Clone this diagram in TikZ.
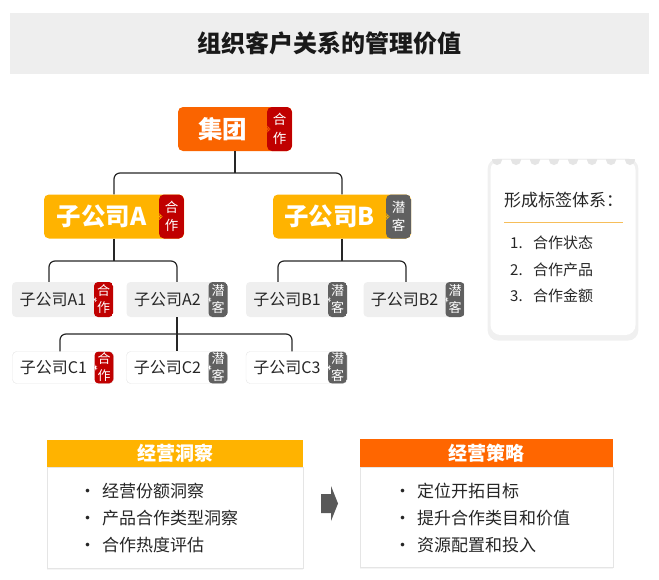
\documentclass[tikz,border=0pt]{standalone}
\usepackage{fontspec}
\setmainfont{Noto Sans CJK SC}
\usetikzlibrary{positioning, shadows}
\definecolor{orangeC}{HTML}{FA6400}
\definecolor{orangeD}{HTML}{FF6600}
\definecolor{yellowC}{HTML}{FFB300}
\definecolor{lineC}{HTML}{F6BE5A}
\definecolor{tagred}{HTML}{C00000}
\definecolor{taggray}{HTML}{606060}
\definecolor{boxgray}{HTML}{EFEFEF}
\definecolor{bandgray}{HTML}{EEEEEE}
\definecolor{textC}{HTML}{262626}

\begin{document}
\begin{tikzpicture}[x=1pt, y=-1pt,
    conn/.style={draw=black!85, line width=1.2pt, rounded corners=6},
    titlebar/.style={fill=bandgray, minimum width=639, minimum height=61, font=\fontsize{24}{24}\selectfont\bfseries, text=black!90},
    tagbar/.style n args={3}{path picture={
        \fill[#1] ([xshift=-#2]path picture bounding box.north east) rectangle (path picture bounding box.south east);
        \fill[#3] ([xshift=-#2, yshift=3.5pt]path picture bounding box.east) -- ++(3.5pt,-3.5pt) -- ++(-3.5pt,-3.5pt) -- cycle;
    }},
    tagtxt/.style={align=center, text=white, inner sep=0pt},
    bigtag/.style n args={3}{tagbar={#1}{25}{#2},
        execute at end node={\hspace*{25pt}},
        label={[tagtxt, font=\fontsize{13.5}{18.5}\selectfont, minimum width=25, anchor=east]east:#3}},
    smalltag/.style n args={3}{tagbar={#1}{19}{#2},
        execute at end node={\hspace*{19pt}},
        label={[tagtxt, font=\fontsize{13}{17}\selectfont, minimum width=19, anchor=east]east:#3}},
    bigbox/.style={rounded corners=5, inner sep=0pt, minimum height=44, text=white, font=\fontsize{24.5}{24.5}\selectfont\bfseries},
    smallbox/.style={rounded corners=4, inner sep=0pt, minimum width=101, minimum height=35, fill=boxgray, text=textC, font=\fontsize{16}{16}\selectfont},
    whitebox/.style={smallbox, fill=white, draw=black!10, minimum height=32},
    notebox/.style={rounded corners=10, fill=white, minimum width=145, minimum height=175,
        drop shadow={opacity=0.12, shadow xshift=0pt, shadow yshift=-2pt, shadow scale=1.04}},
    notetxt/.style={inner sep=0pt, anchor=west, text=textC, font=\fontsize{15}{15}\selectfont},
    panelhead/.style={inner sep=0pt, text=white, font=\fontsize{19}{19}\selectfont\bfseries},
    panelbody/.style={fill=white, draw=black!10, line width=0.8pt,
        drop shadow={opacity=0.08, shadow xshift=0pt, shadow yshift=-1pt}},
    itemtxt/.style={inner sep=0pt, anchor=west, text=textC, font=\fontsize{17}{17}\selectfont}]
\useasboundingbox (0,0) rectangle (659,579);

% 标题
\node[titlebar] (title) at (329.5,43.5) {组织客户关系的管理价值};

% 节点
\node[bigbox, fill=orangeC, minimum width=114, bigtag={tagred}{orangeC}{合\\作}] (group) at (235,129) {集团};
\node[bigbox, fill=yellowC, minimum width=140, bigtag={tagred}{yellowC}{合\\作}] (subA) at (114,216.5) {子公司A};
\node[bigbox, fill=yellowC, minimum width=138, bigtag={taggray}{yellowC}{潜\\客}] (subB) at (342,216.5) {子公司B};

\node[smallbox, smalltag={tagred}{boxgray}{合\\作}] (subA1) at (62.5,299.5) {子公司A1};
\node[smallbox, smalltag={taggray}{boxgray}{潜\\客}] (subA2) at (177,299.5) {子公司A2};
\node[smallbox, smalltag={taggray}{boxgray}{潜\\客}] (subB1) at (296.5,299.5) {子公司B1};
\node[smallbox, smalltag={taggray}{boxgray}{潜\\客}] (subB2) at (414,299.5) {子公司B2};

\node[whitebox, smalltag={tagred}{white}{合\\作}] (subC1) at (63,367.5) {子公司C1};
\node[whitebox, smalltag={taggray}{white}{潜\\客}] (subC2) at (177,367.5) {子公司C2};
\node[whitebox, smalltag={taggray}{white}{潜\\客}] (subC3) at (296.5,367.5) {子公司C3};

% 连线
\coordinate (group-split) at (group.south |- 0,173);
\draw[conn] (group.south) -- (group-split);
\draw[conn] (subA.north) |- (group-split) -| (subB.north);

\coordinate (A-split) at (subA.south |- 0,261);
\draw[conn] (subA.south) -- (A-split);
\draw[conn] ([xshift=-13.5]subA1.north) |- (A-split) -| (subA2.north);

\coordinate (B-split) at (subB.south |- 0,261);
\draw[conn] (subB.south) -- (B-split);
\draw[conn] ([xshift=-18.5]subB1.north) |- (B-split) -| ([xshift=-8]subB2.north);

\coordinate (A2-split) at (subA2.south |- 0,334);
\draw[conn] (subA2.south) -- (subC2.north);
\draw[conn] ([xshift=-3]subC1.north) |- (A2-split) -| ([xshift=-4.5]subC3.north);

% 标签体系
\node[notebox] (note) at (563,247.5) {};
\begin{scope}
  \clip (note.north west) rectangle ([yshift=-8pt]note.north east);
  \foreach \x in {497,516,...,631}
    \fill[black!10] (\x,160) circle (5);
\end{scope}
\node[notetxt, font=\fontsize{17}{17}\selectfont] (note-title) at (504,200) {形成标签体系：};
\draw[lineC, line width=1pt] (504,222) -- (623,222);
\foreach \t [count=\i] in {合作状态,合作产品,合作金额}
  \node[notetxt] (note-\i) at (510,216+26.7*\i) {\makebox[23pt][l]{\i.}\t};

% 洞察与策略
\node[panelhead, fill=yellowC, minimum width=256, minimum height=27] (insight) at (175,453.5) {经营洞察};
\node[panelbody, minimum width=256, minimum height=101, below=0pt of insight] (insight-body) {};
\node[panelhead, fill=orangeD, minimum width=253, minimum height=28] (strategy) at (486.5,453) {经营策略};
\node[panelbody, minimum width=253, minimum height=100, below=0pt of strategy] (strategy-body) {};

\foreach \t [count=\i] in {经营份额洞察,产品合作类型洞察,合作热度评估}
  \node[itemtxt] (insight-\i) at (79,464+27*\i) {\makebox[23pt][l]{\textbullet}\t};
\foreach \t [count=\i] in {定位开拓目标,提升合作类目和价值,资源配置和投入}
  \node[itemtxt] (strategy-\i) at (394,464+27*\i) {\makebox[23pt][l]{\textbullet}\t};

\fill[black!65] (321,494) -- (331,494) -- (331,486) -- (338,503.5) -- (331,521) -- (331,513) -- (321,513) -- cycle;
\end{tikzpicture}
\end{document}
